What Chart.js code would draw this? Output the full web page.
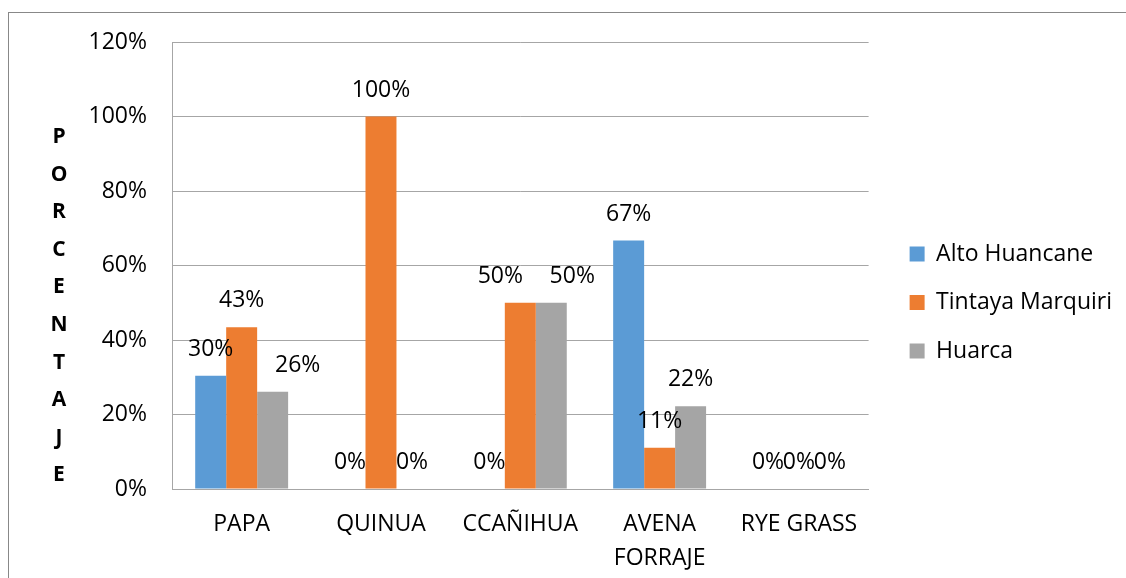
<!DOCTYPE html>
<html>
<head>
<meta charset="utf-8">
<script src="https://cdn.jsdelivr.net/npm/chart.js@4.4.1/dist/chart.umd.min.js"></script>
<style>
  body { margin: 0; background: #fff; }
  #frame { position: absolute; left: 8px; top: 12px; width: 1300px; height: 800px; border-left: 1px solid #888; border-top: 1px solid #888; }
  #wrap { position: absolute; left: 0; top: 0; width: 1126px; height: 578px; }
</style>
</head>
<body>
<div id="frame"></div>
<div id="wrap"><canvas id="myChart"></canvas></div>
<script>
const labels = ["PAPA", "QUINUA", "CCAÑIHUA", ["AVENA", "FORRAJE"], "RYE GRASS"];

const altoHuancane = [30.4, 0, 0, 66.7, 0];
const tintayaMarquiri = [43.4, 100, 50, 11.1, 0];
const huarca = [26.1, 0, 50, 22.2, 0];

const yTicks = [0, 20, 40, 60, 80, 100, 120];
const yTitle = "PORCENTAJE";

const font = "'Open Sans', sans-serif";

// a few labels were nudged sideways in the original (dataset-index: px)
const labelShift = { "2-0": 25, "1-2": -20, "2-2": 21 };

// value labels above each bar
const valueLabels = {
    id: "valueLabels",
    afterDatasetsDraw(chart) {
        const ctx = chart.ctx;
        ctx.save();
        ctx.font = "23px " + font;
        ctx.fillStyle = "#000";
        ctx.textAlign = "center";
        ctx.textBaseline = "middle";
        chart.data.datasets.forEach((ds, i) => {
            chart.getDatasetMeta(i).data.forEach((bar, j) => {
                const dx = labelShift[i + "-" + j] || 0;
                ctx.fillText(Math.round(ds.data[j]) + "%", bar.x + dx, bar.y - 26.5);
            });
        });
        ctx.restore();
    }
};

// vertical stacked axis title
const stackedTitle = {
    id: "stackedTitle",
    afterDraw(chart) {
        const ctx = chart.ctx;
        const top = chart.chartArea.top;
        ctx.save();
        ctx.font = "bold 21px " + font;
        ctx.fillStyle = "#000";
        ctx.textAlign = "center";
        ctx.textBaseline = "middle";
        yTitle.split("").forEach((ch, i) => {
            ctx.fillText(ch, 59, top + 95 + i * 37.6);
        });
        ctx.restore();
    }
};

const ctx = document.getElementById("myChart").getContext("2d");

const myChart = new Chart(ctx, {
    type: "bar",
    data: {
        labels,
        datasets: [
            { label: "Alto Huancane", data: altoHuancane, backgroundColor: "#5B9BD5" },
            { label: "Tintaya Marquiri", data: tintayaMarquiri, backgroundColor: "#ED7D31" },
            { label: "Huarca", data: huarca, backgroundColor: "#A5A5A5" }
        ]
    },
    options: {
        responsive: true,
        maintainAspectRatio: false,
        animation: false,
        datasets: {
            bar: { barPercentage: 1, categoryPercentage: 0.667 }
        },
        layout: { padding: { left: 90, top: 42, right: 4, bottom: 0 } },
        scales: {
            x: {
                afterFit: (scale) => { scale.height = 89; },
                grid: { display: false },
                border: { display: true, color: "#a6a6a6", width: 1 },
                ticks: { color: "#000", font: { family: font, size: 23, lineHeight: 1.45 }, padding: 11, maxRotation: 0, autoSkip: false }
            },
            y: {
                min: 0,
                max: 120,
                afterBuildTicks: (scale) => { scale.ticks = yTicks.map(v => ({ value: v })); },
                afterFit: (scale) => { scale.width = 82; },
                grid: { color: "#a6a6a6", drawTicks: false },
                border: { display: true, color: "#a6a6a6" },
                ticks: { color: "#000", font: { family: font, size: 23 }, padding: 25, callback: v => v + "%" }
            },
            spacer: {
                position: "right",
                display: false,
                afterFit: (scale) => { scale.width = 15.5; }
            }
        },
        plugins: {
            tooltip: { enabled: false },
            legend: {
                position: "right",
                align: "start",
                maxWidth: 240.5,
                title: { display: true, text: "", font: { size: 10, lineHeight: 1 }, padding: { top: 165, bottom: 0 } },
                labels: { boxWidth: 15, boxHeight: 15, padding: 25.5, color: "#000", font: { family: font, size: 23 } }
            }
        }
    },
    plugins: [valueLabels, stackedTitle]
});
</script>
</body>
</html>
